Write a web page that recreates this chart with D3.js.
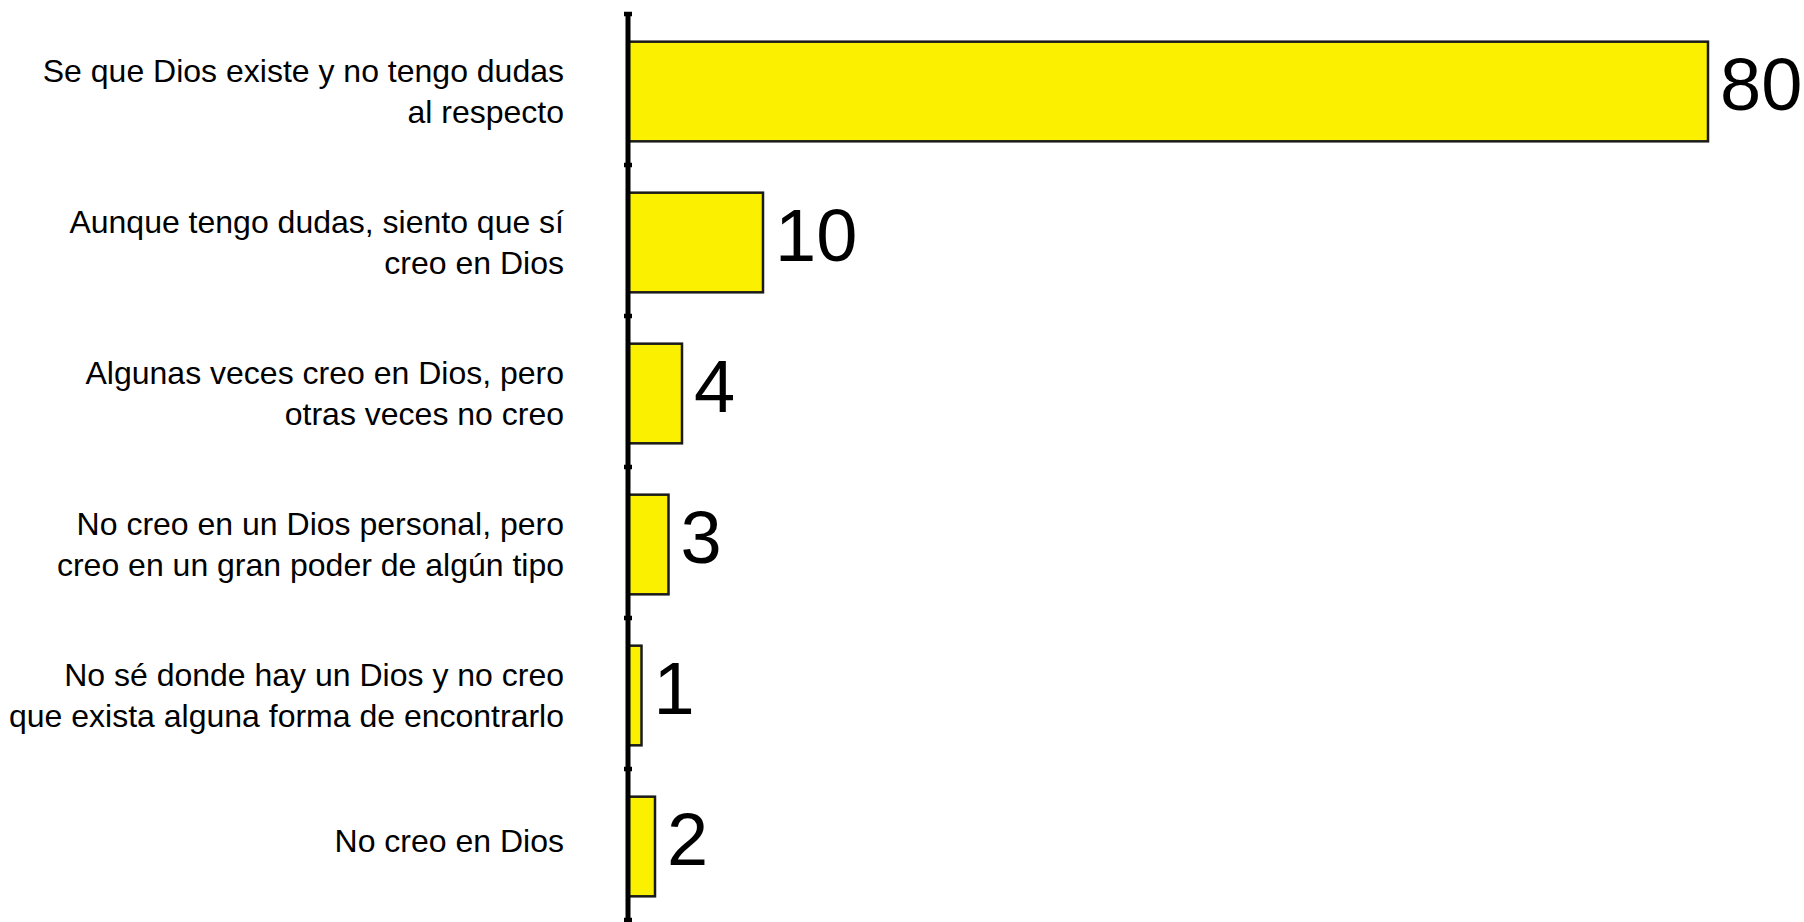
<!DOCTYPE html>
<html>
<head>
<meta charset="utf-8">
<script src="https://cdn.jsdelivr.net/npm/d3@7/dist/d3.min.js"></script>
<style>
  html, body { margin: 0; padding: 0; background: #ffffff; }
  svg { display: block; }
  text { font-family: "Liberation Sans", Arial, sans-serif; fill: #000; }
</style>
</head>
<body>
<svg id="chart" width="1804" height="922"></svg>
<script>
// Survey answers, each split into its display lines
const categories = [
  ["Se que Dios existe y no tengo dudas", "al respecto"],
  ["Aunque tengo dudas, siento que sí", "creo en Dios"],
  ["Algunas veces creo en Dios, pero", "otras veces no creo"],
  ["No creo en un Dios personal, pero", "creo en un gran poder de algún tipo"],
  ["No sé donde hay un Dios y no creo", "que exista alguna forma de encontrarlo"],
  ["No creo en Dios"]
];
const values = [80, 10, 4, 3, 1, 2];

const svg = d3.select("#chart");
const axisX = 628;
const plotTop = 14, plotBottom = 920;

const keys = categories.map((c, i) => i);
const y = d3.scaleBand().domain(keys).range([plotTop, plotBottom]).padding(0);
const x = d3.scaleLinear().domain([0, 80]).range([axisX, 1708]);

const step = y.step();
const barH = step * 0.66;
const barOffset = (step - barH) / 2 + 2;

// Bars
svg.append("g").selectAll("rect")
  .data(values)
  .join("rect")
  .attr("x", x(0))
  .attr("y", (d, i) => y(i) + barOffset)
  .attr("width", d => x(d) - x(0))
  .attr("height", barH)
  .attr("fill", "#FBF000")
  .attr("stroke", "#1a1a1a")
  .attr("stroke-width", 2.5);

// Value labels
svg.append("g").selectAll("text")
  .data(values)
  .join("text")
  .attr("x", d => x(d) + 12)
  .attr("y", (d, i) => y(i) + barOffset + barH / 2 + 18)
  .attr("font-size", 74)
  .text(d => d);

// Vertical axis with ticks on band boundaries
const axis = svg.append("g");
axis.append("line")
  .attr("x1", axisX).attr("x2", axisX)
  .attr("y1", plotTop).attr("y2", plotBottom)
  .attr("stroke", "#000").attr("stroke-width", 5);
const bounds = keys.map(k => y(k)).concat([y(keys[keys.length - 1]) + step]);
axis.selectAll("line.tick")
  .data(bounds)
  .join("line")
  .attr("class", "tick")
  .attr("x1", axisX - 4).attr("x2", axisX + 4)
  .attr("y1", d => d).attr("y2", d => d)
  .attr("stroke", "#000").attr("stroke-width", 4.5);

// Category labels, right aligned to the left of the axis
const lineGap = 41;
const labels = svg.append("g").attr("text-anchor", "end");
categories.forEach((lines, i) => {
  const cy = y(i) + step / 2 + (lines.length > 1 ? 2 : -4);
  const first = cy + 11 - (lines.length - 1) * lineGap / 2;
  const t = labels.append("text").attr("font-size", 32);
  lines.forEach((ln, j) => {
    t.append("tspan").attr("x", 564).attr("y", first + j * lineGap).text(ln);
  });
});
</script>
</body>
</html>
